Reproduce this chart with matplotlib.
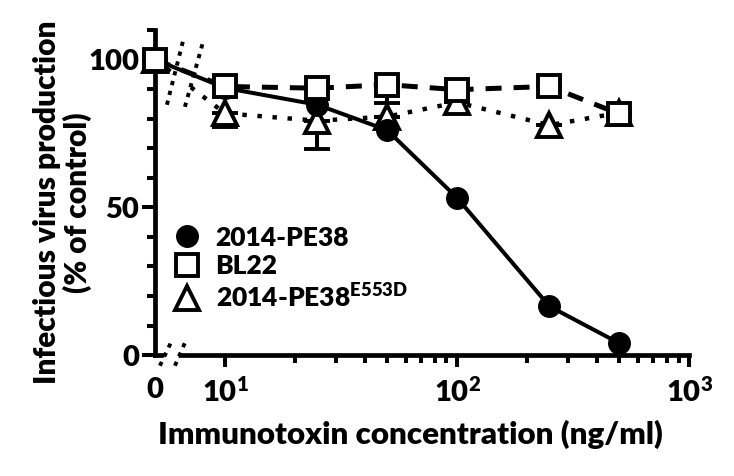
import matplotlib
matplotlib.use("Agg")
import matplotlib.pyplot as plt
import matplotlib.transforms as mtransforms
import numpy as np
from matplotlib.lines import Line2D
from matplotlib.patches import Polygon
from matplotlib.ticker import FixedLocator, MultipleLocator

W = "heavy"
plt.rcParams["font.family"] = ["Lato", "DejaVu Sans"]
plt.rcParams["font.weight"] = W
plt.rcParams["mathtext.fontset"] = "custom"
plt.rcParams["mathtext.rm"] = "Lato:heavy"
plt.rcParams["mathtext.bf"] = "Lato:heavy"
plt.rcParams["mathtext.it"] = "Lato:heavy"

# data (ng/ml, % of control)
conc = [0, 10, 25, 50, 100, 250, 500]
pe38 = [100, 90.4, 84.7, 76.1, 53.2, 16.5, 4.0]
bl22 = [100, 90.9, 90.3, 91.5, 89.8, 90.9, 81.6]
bl22_err = [0, 0, 0, 6.2, 0, 0, 0]
e553d = [100, 81.8, 79.3, 80.7, 85.5, 77.8, 82.0]
e553d_err = [0, 4.5, 9.4, 0, 0, 0, 0]

labels = ["2014-PE38", "BL22", r"2014-PE38$^{\mathbf{E553D}}$"]
xticks = [0, 10, 100, 1000]
xticklabels = [r"$\mathbf{0}^{\ }$", r"$\mathbf{10^{1}}$", r"$\mathbf{10^{2}}$",
               r"$\mathbf{10^{3}}$"]
xminor = [m * 10 ** d for d in (1, 2) for m in range(2, 10)]

ZERO = 0.698  # where x = 0 sits, in log10 units


def fwd(x):
    x = np.asarray(x, dtype=float)
    out = np.full(x.shape, ZERO)
    pos = x > 0
    out[pos] = np.log10(x[pos])
    return out


def inv(v):
    return 10.0 ** np.asarray(v, dtype=float)


fig = plt.figure(figsize=(7.34, 4.76), dpi=100)
ax = fig.add_axes([0.211, 0.254, 0.728, 0.683])
ax.set_xscale("function", functions=(fwd, inv))

zeros = [0] * len(conc)
ax.errorbar(conc, e553d, yerr=[e553d_err, zeros], color="black", lw=3.2,
            ls=(0, (1.0, 2.4)), dash_capstyle="butt", marker="^", ms=17,
            mfc="white", mec="black", mew=2.8, ecolor="black", elinewidth=2.9,
            capsize=9.5, capthick=2.9, clip_on=False, zorder=3)
ax.plot(conc, pe38, color="black", lw=2.9, marker="o", ms=15.5, mfc="black",
        mec="black", clip_on=False, zorder=4)
ax.errorbar(conc, bl22, yerr=[bl22_err, zeros], color="black", lw=3.6,
            ls=(0, (3.2, 2.4)), dash_capstyle="butt", marker="s", ms=16.5,
            mfc="white", mec="black", mew=2.8, ecolor="black", elinewidth=2.9,
            capsize=9.5, capthick=2.9, clip_on=False, zorder=5)

# axis break: white gap between two dotted slashes
bt = mtransforms.blended_transform_factory(ax.transAxes, ax.transData)
top_a = [(0.0225, 84.7), (0.0524, 106.1)]
top_b = [(0.0562, 84.0), (0.0899, 105.8)]
bot_a = [(0.0094, -3.6), (0.0318, 4.9)]
bot_b = [(0.0375, -3.6), (0.0580, 4.9)]
for a, b in [(top_a, top_b), (bot_a, bot_b)]:
    ax.add_patch(Polygon([a[0], a[1], b[1], b[0]], closed=True, fc="white",
                         ec="none", transform=bt, clip_on=False, zorder=3.5))
    for s in (a, b):
        ax.add_line(Line2D([s[0][0], s[1][0]], [s[0][1], s[1][1]], transform=bt,
                           color="black", lw=2.8, ls=(0, (1.1, 1.5)),
                           dash_capstyle="butt", clip_on=False, zorder=3.6))

ax.set_xlim(0, 1000)
ax.set_ylim(0, 110)
ax.xaxis.set_major_locator(FixedLocator(xticks))
ax.xaxis.set_minor_locator(FixedLocator(xminor))
ax.set_xticklabels(xticklabels)
ax.xaxis.get_major_ticks()[0].tick1line.set_visible(False)
ax.set_yticks([0, 50, 100])
ax.yaxis.set_minor_locator(MultipleLocator(10))

for side in ("top", "right"):
    ax.spines[side].set_visible(False)
for side in ("left", "bottom"):
    ax.spines[side].set_linewidth(3.4)
ax.tick_params(axis="both", which="major", width=2.9, labelsize=21)
ax.tick_params(axis="x", which="major", length=8.6, pad=7)
ax.tick_params(axis="y", which="major", length=9.4, pad=2)
ax.tick_params(axis="both", which="minor", width=2.9, length=5.5)

ax.set_xlabel("Immunotoxin concentration (ng/ml)", fontsize=22.5, fontweight=W)
ax.xaxis.set_label_coords(0.479, -0.2)
ax.set_ylabel("Infectious virus production\n(% of control)", fontsize=21.5,
              fontweight=W, linespacing=1.05)
ax.yaxis.set_label_coords(-0.118, 0.47)

handles = [
    Line2D([], [], ls="none", marker="o", ms=15.5, mfc="black", mec="black"),
    Line2D([], [], ls="none", marker="s", ms=16.5, mfc="white", mec="black", mew=2.8),
    Line2D([], [], ls="none", marker="^", ms=17, mfc="white", mec="black", mew=2.8),
]
ax.legend(handles, labels, loc="upper left", bbox_to_anchor=(0.0, 0.455),
          frameon=False, fontsize=19, handlelength=1.0, handletextpad=0.6,
          labelspacing=0.18, borderaxespad=0.3)

fig.savefig("out.png", dpi=100)
